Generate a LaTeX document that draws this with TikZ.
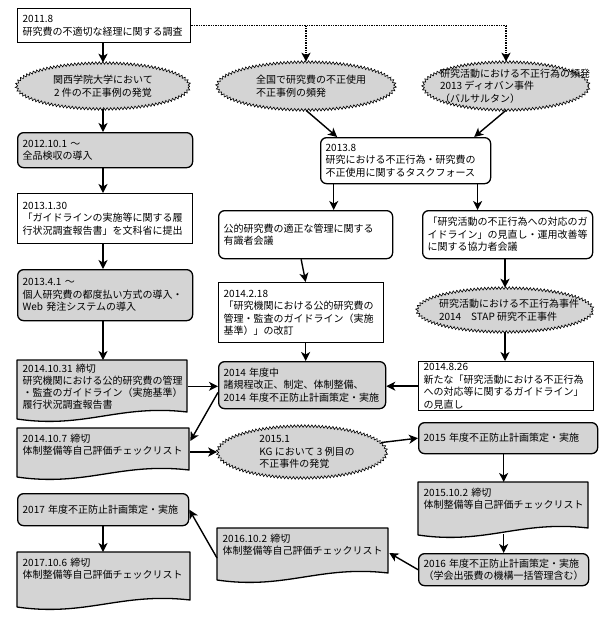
\documentclass[tikz,border=0pt]{standalone}
\usepackage{fontspec}
\setmainfont{Noto Sans CJK JP}
\usetikzlibrary{arrows.meta,shapes.geometric,decorations.pathmorphing,backgrounds,calc}
\definecolor{boxgray}{RGB}{212,212,212}
\tikzset{
  base/.style={line width=1.3pt, anchor=north west, align=left, inner xsep=5pt, inner ysep=2pt, font=\fontsize{10}{12.5}\selectfont},
  sqbox/.style={base, draw, fill=white},
  rbox/.style={base, draw, rounded corners=6pt, fill=white},
  gbox/.style={rbox, fill=boxgray},
  docbox/.style={base, inner ysep=5pt},
  docline/.style={line width=1.3pt, fill=boxgray, line join=round},
  burst/.style={ellipse, draw, fill=boxgray, line width=0.6pt, inner sep=0pt, decorate, decoration={zigzag, segment length=3.5pt, amplitude=1.3pt}},
  bursttext/.style={align=left, inner sep=0pt, font=\fontsize{10}{12.5}\selectfont},
  arr/.style={line width=1.4pt, -{Stealth[length=9pt,width=9pt,inset=2.5pt]}},
  dotarr/.style={arr, densely dotted},
}
% wavy bottom of the checklist boxes: node, width, height
\newcommand{\docframe}[3]{%
  \draw[docline] (#1.north west) -- ++(#2,0) -- ++(0,#3-10)
    .. controls +(-0.4*#2,-8) and +(0.4*#2,10) .. ($(#1.north west)+(0,#3-3)$) -- cycle;}
\begin{document}
\begin{tikzpicture}[x=1pt, y=-1pt]
\useasboundingbox (0,0) rectangle (600,630);

% left column
\node[sqbox, text width=163pt, minimum height=34pt] (survey) at (17,8) {2011.8\\研究費の不適切な経理に関する調査};
\node[burst, minimum width=173pt, minimum height=46pt, label={[bursttext, align=center]center:関西学院大学において\\2 件の不正事例の発覚}] (kgcase) at (103,86) {};
\node[gbox, text width=165pt, minimum height=35pt] (inspect) at (17,132) {2012.10.1 ～\\全品検収の導入};
\node[sqbox, text width=165pt, minimum height=50pt] (report) at (17,193) {2013.1.30\\「ガイドラインの実施等に関する履\\行状況調査報告書」を文科省に提出};
\node[gbox, text width=165pt, minimum height=51pt] (perpay) at (17,269) {2013.4.1 ～\\個人研究費の都度払い方式の導入・\\Web 発注システムの導入};
\node[docbox, text width=160pt, inner ysep=3pt, font=\fontsize{10}{12}\selectfont] (docreport) at (17,360) {2014.10.31 締切\\研究機関における公的研究費の管理\\・監査のガイドライン（実施基準）\\履行状況調査報告書};
\node[docbox, text width=162pt] (check14) at (17,428) {2014.10.7 締切\\体制整備等自己評価チェックリスト};
\node[gbox, text width=161pt, minimum height=32pt] (fy17) at (17,493) {2017 年度不正防止計画策定・実施};
\node[docbox, text width=163pt] (check17) at (17,552) {2017.10.6 締切\\体制整備等自己評価チェックリスト};

% middle and right columns
\node[burst, minimum width=178pt, minimum height=48pt, label={[bursttext, xshift=5pt]center:全国で研究費の不正使用\\不正事例の頻発}] (national) at (306,86) {};
\node[burst, minimum width=166pt, minimum height=48pt, label={[bursttext, xshift=9pt]center:研究活動における不正行為の頻発\\2013 ディオバン事件\\（バルサルタン）}] (misconduct) at (506,86) {};
\node[rbox, text width=160pt, minimum height=46pt] (taskforce) at (320,137) {2013.8\\研究における不正行為・研究費の\\不正使用に関するタスクフォース};
\node[rbox, text width=164pt, minimum height=48pt] (expert) at (218,210) {公的研究費の適正な管理に関する\\有識者会議};
\node[rbox, text width=160pt, minimum height=48pt] (coop) at (422,210) {「研究活動の不正行為への対応のガ\\イドライン」の見直し・運用改善等\\に関する協力者会議};
\node[sqbox, text width=155pt, minimum height=60pt] (revise) at (218,282) {2014.2.18\\「研究機関における公的研究費の\\管理・監査のガイドライン（実施\\基準）」の改訂};
\node[burst, minimum width=176pt, minimum height=44pt, label={[bursttext, xshift=4pt]center:研究活動における不正行為事件\\2014　STAP 研究不正事件}] (stap) at (505,310) {};
\node[gbox, text width=157pt, minimum height=47pt] (fy14) at (218,361) {2014 年度中\\諸規程改正、制定、体制整備、\\2014 年度不正防止計画策定・実施};
\node[sqbox, text width=165pt, minimum height=49pt, inner ysep=1pt] (newguide) at (418,361) {2014.8.26\\新たな「研究活動における不正行為\\への対応等に関するガイドライン」\\の見直し};
\node[burst, minimum width=169pt, minimum height=52pt, label={[bursttext, xshift=5pt]center:2015.1\\KG において 3 例目の\\不正事件の発覚}] (kg3) at (302,452) {};
\node[gbox, text width=169pt, minimum height=31pt] (fy15) at (418,422) {2015 年度不正防止計画策定・実施};
\node[docbox, text width=160pt] (check15) at (418,482) {2015.10.2 締切\\体制整備等自己評価チェックリスト};
\node[gbox, text width=160pt, minimum height=32pt] (fy16) at (418,553) {2016 年度不正防止計画策定・実施\\（学会出張費の機構一括管理含む）};
\node[docbox, text width=161pt] (check16) at (217,528) {2016.10.2 締切\\体制整備等自己評価チェックリスト};

\begin{scope}[on background layer]
  \docframe{docreport}{170}{62}
  \docframe{check14}{172}{52}
  \docframe{check15}{170}{56}
  \docframe{check16}{171}{55}
  \docframe{check17}{173}{58}
\end{scope}

% connectors
\draw[line width=1.4pt, densely dotted] (survey.east) -- (misconduct |- survey.east);
\draw[dotarr] (national |- survey.east) -- (national.north);
\draw[dotarr] (misconduct |- survey.east) -- (misconduct.north);
\draw[arr] (survey.south -| kgcase) -- (kgcase.north);
\draw[arr] (kgcase.south) -- (kgcase.south |- inspect.north);
\draw[arr] (inspect.south -| kgcase) -- (report.north -| kgcase);
\draw[arr] (report.south -| kgcase) -- (perpay.north -| kgcase);
\draw[arr] (perpay.south -| kgcase) -- (docreport.north -| kgcase);
\draw[arr] (national.south) -- ($(taskforce.north west)!0.1!(taskforce.north east)$);
\draw[arr] (misconduct.south) -- ($(taskforce.north west)!0.9!(taskforce.north east)$);
\draw[arr] ($(taskforce.south west)!0.08!(taskforce.south east)$) coordinate (tfl) -- (tfl |- expert.north);
\draw[arr] ($(taskforce.south west)!0.92!(taskforce.south east)$) coordinate (tfr) -- (tfr |- coop.north);
\draw[arr] (expert.south -| revise) -- (expert.south |- revise.north);
\draw[arr] (coop.south -| stap) -- (stap.north);
\draw[arr] (revise.south -| expert) -- (expert |- fy14.north);
\draw[arr] (stap.south) -- (stap |- newguide.north);
\draw[arr] (newguide.west) -- (fy14.east |- newguide.west);
\draw[arr] (docreport.east) -- (fy14.west |- docreport.east);
\draw[arr] ($(fy14.west)!0.3!(fy14.south west)$) -- ($(check14.north east)+(0,13)$);
\draw[arr] (check14.east |- kg3) -- (kg3.west);
\draw[arr] (kg3) -- (fy15.west);
\draw[arr] (fy15.south -| check15.north) -- (check15.north);
\draw[arr] ($(check15.north)+(0,52)$) -- (fy16.north);
\draw[arr] (fy16.west) -- ($(check16.north east)+(0,25)$);
\draw[arr] ($(check16.north west)+(0,30)$) -- (fy17.east);
\draw[arr] (fy17.south -| kgcase) -- (check17.north -| kgcase);
\end{tikzpicture}
\end{document}
